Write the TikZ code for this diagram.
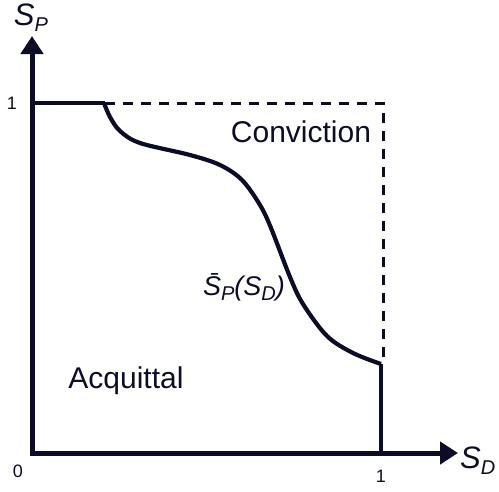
\documentclass[tikz,border=0pt]{standalone}
\usepackage{fontspec}
\setmainfont{Liberation Sans}
\usetikzlibrary{arrows.meta}
\definecolor{ink}{RGB}{12,12,38}
\tikzset{
  axis/.style={ink,line width=5pt,-{Triangle[length=18pt,width=22pt]}},
  thick line/.style={ink,line width=4.5pt},
  dash line/.style={ink,line width=3pt,dash pattern=on 10pt off 8pt},
  curve line/.style={ink,line width=4.2pt,line join=round},
  tick/.style={text=ink,font=\fontsize{18}{20}\selectfont,inner sep=0pt},
  region/.style={text=ink,font=\fontsize{30}{32}\selectfont,inner sep=0pt},
  axlabel/.style={text=ink,font=\fontsize{31}{33}\selectfont\itshape,inner sep=0pt},
}
\newcommand{\sublab}[1]{\raisebox{-0.2em}{\fontsize{20}{21}\selectfont #1}}
\begin{document}
\begin{tikzpicture}[x=1pt,y=-1pt]
\useasboundingbox (0,0) rectangle (499,491);
\coordinate (O) at (32,453);
\coordinate (ytip) at (32,36);
\coordinate (xtip) at (458,453);
\coordinate (y1) at (32,103);
\coordinate (k) at (105,103);
\coordinate (tr) at (383,103);
\coordinate (br) at (383,364);
\coordinate (x1) at (381,453);
\coordinate (ce) at (381,364);
% axes
\draw[axis] (O) -- (ytip);
\draw[axis] ([xshift=-2.5pt]O) -- (xtip);
% top solid
\draw[thick line] (y1) -- (k);
% dashed box
\draw[dash line] (k) -- (tr) -- (br);
% curve
\draw[curve line] plot[smooth,tension=0.55] coordinates {(104,103) (110,117) (120,131) (140,143) (190,155) (220,165) (242,180) (260,205) (271,228) (290,277) (303,304) (327,336) (353,353) (381,364)};
% right vertical
\draw[thick line] (ce) -- (x1);
% labels
\node[axlabel] (sp) at (31,18) {S\sublab{P}};
\node[axlabel,anchor=west] (sd) at (460,461) {S\sublab{D}};
\node[tick] (one y) at (12,103) {1};
\node[tick] (zero) at (18,471) {0};
\node[tick] (one x) at (381,476) {1};
\node[region] (conv) at (301,132) {Conviction};
\node[region] (acq) at (126,381) {Acquittal};
\node[text=ink,font=\fontsize{27}{29}\selectfont\itshape,inner sep=0pt,anchor=east] (fn) at (285,287) {\={S}\sublab{P}(S\sublab{D})};
\end{tikzpicture}
\end{document}
